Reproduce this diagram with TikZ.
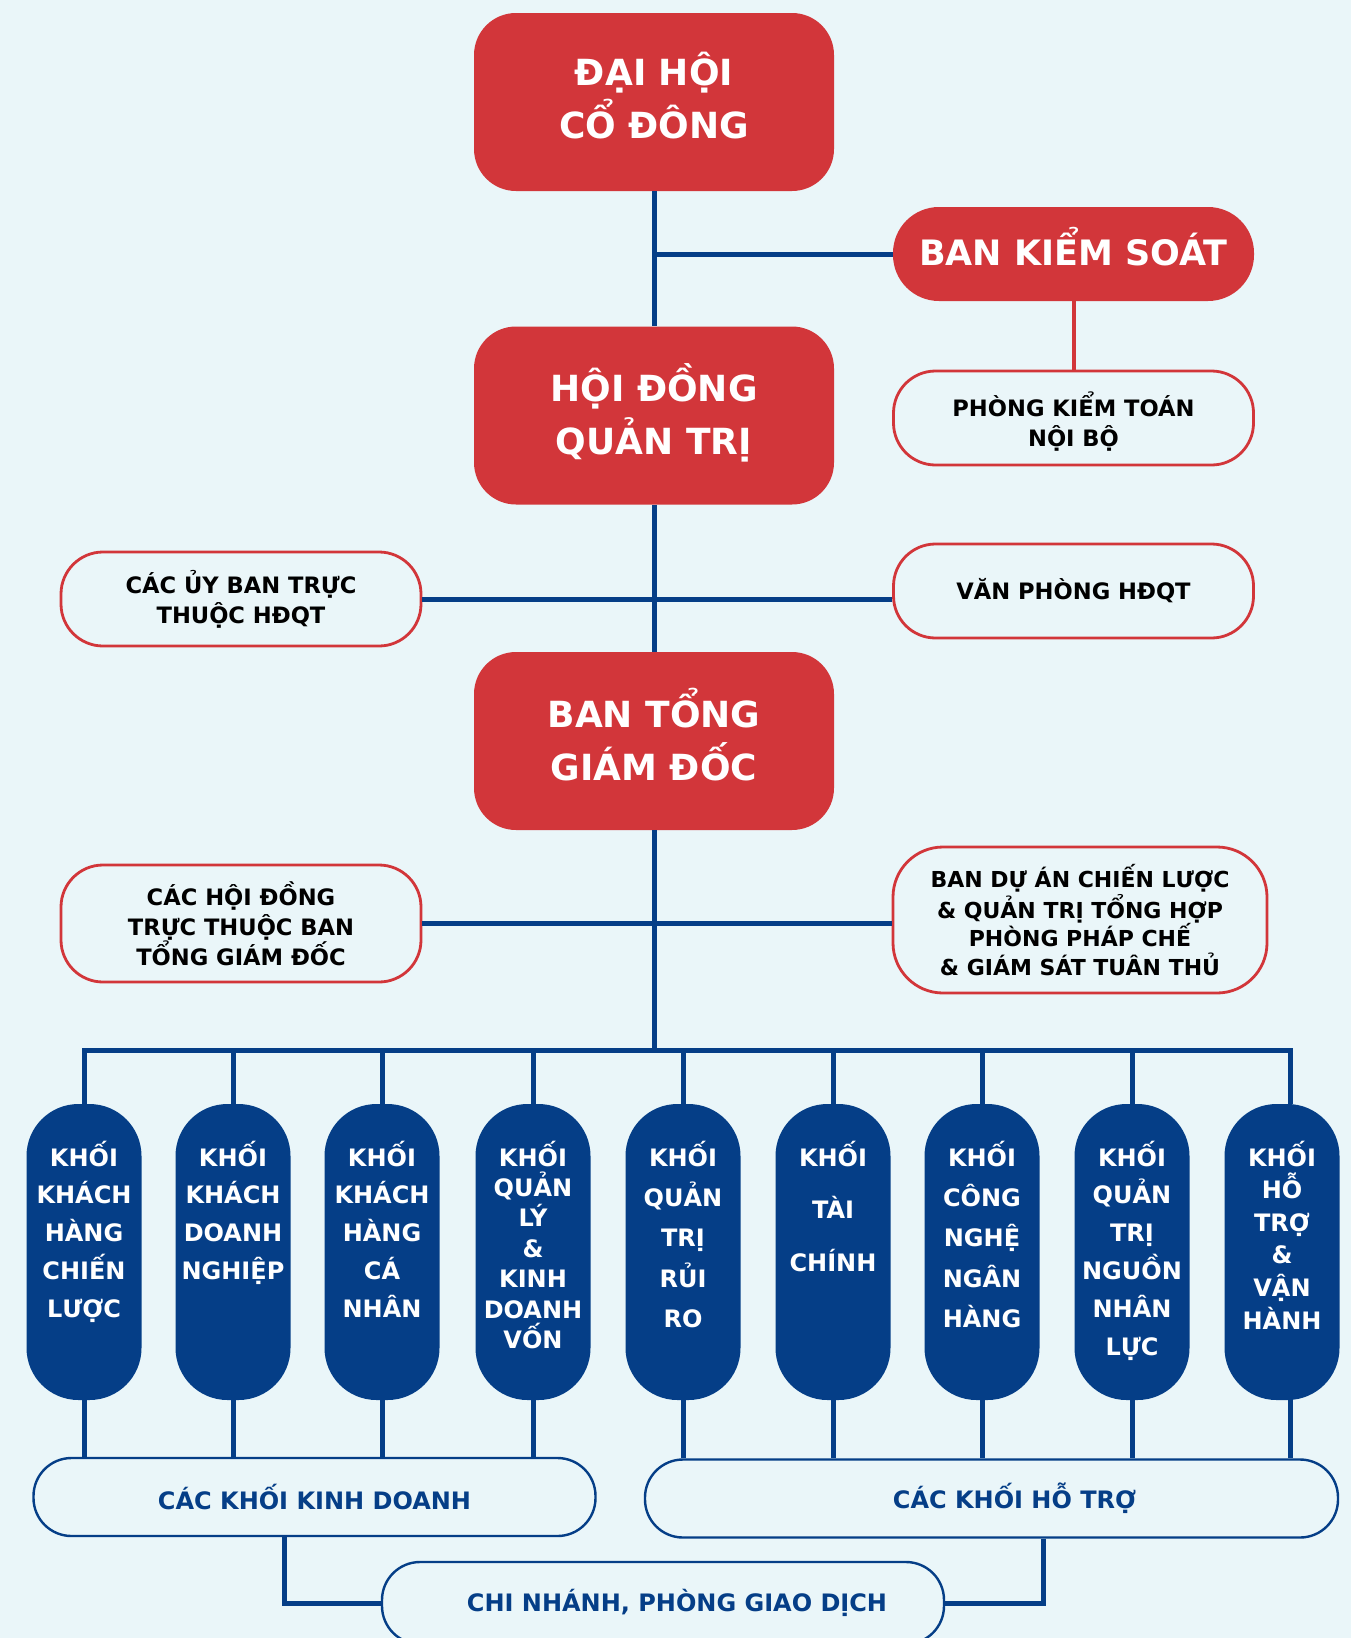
\documentclass[tikz,border=0pt]{standalone}
\usepackage{fontspec}
\setmainfont{DejaVu Sans}
\definecolor{vpred}{HTML}{D2363A}
\definecolor{vpblue}{HTML}{053E87}
\definecolor{vpbg}{HTML}{EAF6F9}
\tikzset{
  redbox/.style={rectangle, rounded corners=21pt, fill=vpred, text=white, align=center,
    minimum width=180pt, minimum height=89pt, text depth=6.5pt,
    font=\bfseries\fontsize{18}{26.5}\selectfont},
  bksbox/.style={redbox, rounded corners=23pt, minimum width=180.5pt, minimum height=47pt,
    text height=13pt, text depth=1.5pt, font=\bfseries\fontsize{17.5}{21}\selectfont},
  subbox/.style={rectangle, rounded corners=21pt, draw=vpred, line width=1.4pt, fill=vpbg,
    text=black, align=center, minimum width=180pt, minimum height=47pt,
    font=\bfseries\fontsize{11.3}{15}\selectfont},
  khoi/.style={rectangle, rounded corners=26pt, fill=vpblue, text=white, align=center,
    text width=57.5pt, inner xsep=0pt, inner ysep=6pt, text height=25pt, text depth=111pt,
    font=\bfseries\fontsize{12}{#1}\selectfont},
  nhom/.style={rectangle, rounded corners=19pt, draw=vpblue, line width=1.2pt, fill=vpbg,
    text=vpblue, minimum height=39pt, font=\bfseries\fontsize{12}{14}\selectfont},
  lien/.style={draw=vpblue, line width=2.5pt},
}
\begin{document}
\begin{tikzpicture}[x=0.5pt,y=-0.5pt]
  % Background
  \fill[vpbg] (0,0) rectangle (1351,1638);
  \useasboundingbox (0,0) rectangle (1351,1638);

  % Governance
  \node[redbox] (dhcd) at (654,102) {ĐẠI HỘI\\CỔ ĐÔNG};
  \node[bksbox] (bks) at (1073.5,254) {BAN KIỂM SOÁT};
  \node[redbox] (hdqt) at (654,415.5) {HỘI ĐỒNG\\QUẢN TRỊ};
  \node[subbox, text height=28.5pt, text depth=0pt] (pktnb) at (1073.5,418) {PHÒNG KIỂM TOÁN\\NỘI BỘ};
  \node[subbox] (uyban) at (241,599) {CÁC ỦY BAN TRỰC\\THUỘC HĐQT};
  \node[subbox] (vphdqt) at (1073.5,591) {VĂN PHÒNG HĐQT};
  \node[redbox] (btgd) at (654,741) {BAN TỔNG\\GIÁM ĐỐC};
  \node[subbox, minimum height=58.5pt] (hoidong) at (241,923.5)
    {CÁC HỘI ĐỒNG\\TRỰC THUỘC BAN\\TỔNG GIÁM ĐỐC};
  \node[subbox, minimum width=187pt, minimum height=73pt, rounded corners=25pt,
    font=\bfseries\fontsize{11}{14.2}\selectfont] (banduan) at (1080,920)
    {BAN DỰ ÁN CHIẾN LƯỢC\\\& QUẢN TRỊ TỔNG HỢP\\PHÒNG PHÁP CHẾ\\\& GIÁM SÁT TUÂN THỦ};

  % Main line
  \coordinate (bus) at (0,1050);
  \draw[lien] (dhcd.south) -- (hdqt.north);
  \draw[lien] (hdqt.south) -- (btgd.north);
  \draw[lien] (btgd.south) -- (btgd.south |- bus);
  \draw[lien] (bks.west) -- (bks.west -| dhcd.south);
  \draw[draw=vpred, line width=2pt] (bks.south) -- (pktnb.north);
  \draw[lien] (uyban.east) -- (uyban.east -| vphdqt.west);
  \draw[lien] (hoidong.east) -- (hoidong.east -| banduan.west);

  % Blocks
  \node[khoi=18.9] (k1) at (84,1252) {KHỐI\\KHÁCH\\HÀNG\\CHIẾN\\LƯỢC};
  \node[khoi=18.9] (k2) at (233,1252) {KHỐI\\KHÁCH\\DOANH\\NGHIỆP};
  \node[khoi=18.9] (k3) at (382,1252) {KHỐI\\KHÁCH\\HÀNG\\CÁ\\NHÂN};
  \node[khoi=15.2] (k4) at (533,1252) {KHỐI\\QUẢN\\LÝ\\\&\\KINH\\DOANH\\VỐN};
  \node[khoi=20.2] (k5) at (683,1252) {KHỐI\\QUẢN\\TRỊ\\RỦI\\RO};
  \node[khoi=26.3] (k6) at (833,1252) {KHỐI\\TÀI\\CHÍNH};
  \node[khoi=20.2] (k7) at (982,1252) {KHỐI\\CÔNG\\NGHỆ\\NGÂN\\HÀNG};
  \node[khoi=18.9] (k8) at (1132,1252) {KHỐI\\QUẢN\\TRỊ\\NGUỒN\\NHÂN\\LỰC};
  \node[khoi=16.3] (k9) at (1282,1252) {KHỐI\\HỖ\\TRỢ\\\&\\VẬN\\HÀNH};

  % Bus to blocks
  \draw[lien] (k1.north) -- (k1.north |- bus) -- ([xshift=4pt]k9.north |- bus) -- ([xshift=4pt]k9.north);
  \draw[lien] (k2.north) -- (k2.north |- bus) (k3.north) -- (k3.north |- bus)
    (k4.north) -- (k4.north |- bus) (k5.north) -- (k5.north |- bus)
    (k6.north) -- (k6.north |- bus) (k7.north) -- (k7.north |- bus)
    (k8.north) -- (k8.north |- bus);

  % Groups
  \node[nhom, minimum width=281pt] (kd) at (314.5,1497) {CÁC KHỐI KINH DOANH};
  \node[nhom, minimum width=346.5pt] (ht) at (991.5,1498.5) {\hspace*{23pt}CÁC KHỐI HỖ TRỢ};
  \node[nhom, minimum width=281pt, minimum height=41pt] (cn) at (663,1603)
    {\hspace*{14pt}CHI NHÁNH, PHÒNG GIAO DỊCH};

  \draw[lien] (k1.south) -- (k1.south |- kd.north) (k2.south) -- (k2.south |- kd.north)
    (k3.south) -- (k3.south |- kd.north) (k4.south) -- (k4.south |- kd.north);
  \draw[lien] (k5.south) -- (k5.south |- ht.north) (k6.south) -- (k6.south |- ht.north)
    (k7.south) -- (k7.south |- ht.north) (k8.south) -- (k8.south |- ht.north)
    ([xshift=4pt]k9.south) -- ([xshift=4pt]k9.south |- ht.north);
  \draw[lien] ([xshift=-15.25pt]kd.south) |- (cn.west);
  \draw[lien] ([xshift=25.75pt]ht.south) |- (cn.east);
\end{tikzpicture}
\end{document}
